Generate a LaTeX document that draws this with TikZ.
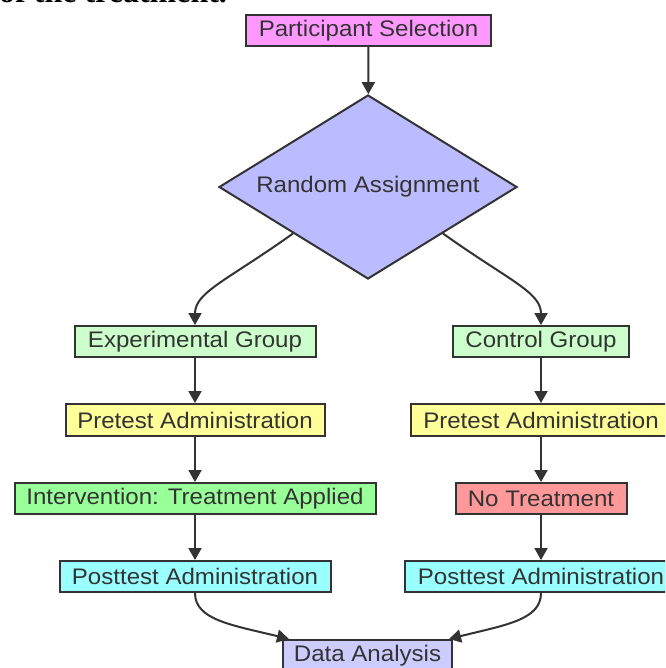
\documentclass[tikz,border=0pt]{standalone}
\usepackage{fontspec}
\setmainfont{Liberation Sans}[FakeStretch=1.07]
\newfontfamily\topserif{Liberation Serif}
\usetikzlibrary{shapes.geometric,arrows.meta,calc}
\definecolor{ink}{HTML}{333333}
\definecolor{cpink}{HTML}{FF99FF}
\definecolor{cdia}{HTML}{BBBBFF}
\definecolor{cgreen}{HTML}{CCFFCC}
\definecolor{cyellow}{HTML}{FFFF99}
\definecolor{cint}{HTML}{99FF99}
\definecolor{cred}{HTML}{FF9999}
\definecolor{ccyan}{HTML}{99FFFF}
\definecolor{cdata}{HTML}{CCCCFF}
\tikzset{
  box/.style={draw=ink, line width=2pt, inner sep=0pt, minimum height=31pt,
    text=ink, font=\fontsize{22.5}{27}\selectfont},
  dia/.style={diamond, draw=ink, line width=2pt, inner sep=0pt, aspect=1.62,
    minimum width=298pt, minimum height=184pt, fill=cdia, text=ink,
    font=\fontsize{22.5}{27}\selectfont},
  conn/.style={draw=ink, line width=2pt, -{Triangle[length=12pt,width=13pt]}}
}
\begin{document}
\begin{tikzpicture}[x=1pt,y=-1pt]
\useasboundingbox (0,0) rectangle (665,668);
\clip (0,0) rectangle (665,668);
\fill[white] (0,0) rectangle (665,668);
\node[anchor=base west, inner sep=0pt, font=\topserif\bfseries\fontsize{32}{36}\selectfont] (toptext) at (-1,3) {of the treatment.};

\node[box, fill=cpink, minimum width=245pt] (ps) at (368.5,30.5) {Participant Selection};
\node[dia] (ra) at (368,187) {Random Assignment};
\node[box, fill=cgreen, minimum width=241pt] (eg) at (195,341.5) {Experimental Group};
\node[box, fill=cgreen, minimum width=176pt] (cg) at (541,341.5) {Control Group};
\node[box, fill=cyellow, minimum width=259pt, minimum height=32pt] (pre1) at (195,420) {Pretest Administration};
\node[box, fill=cyellow, minimum width=260pt, minimum height=32pt] (pre2) at (541,420) {Pretest Administration};
\node[box, fill=cint, minimum width=361pt] (int) at (195,498.5) {Intervention: Treatment Applied};
\node[box, fill=cred, minimum width=171pt] (nt) at (541,498.5) {No Treatment};
\node[box, fill=ccyan, minimum width=271pt] (post1) at (195,576.5) {Posttest Administration};
\node[box, fill=ccyan, minimum width=272pt] (post2) at (541,576.5) {Posttest Administration};
\node[box, fill=cdata, minimum width=169pt] (da) at (367.5,655.5) {Data Analysis};

\coordinate (daL) at ($(da.north west)+(7,0)$);
\coordinate (daR) at ($(da.north east)+(-4,0)$);

\draw[conn] (ps) -- (ra);
\draw[conn] (ra.south west) .. controls (228,280) and (195,292) .. (eg.north);
\draw[conn] (ra.south east) .. controls (508,280) and (541,292) .. (cg.north);
\draw[conn] (eg) -- (pre1);
\draw[conn] (cg) -- (pre2);
\draw[conn] (pre1) -- (int);
\draw[conn] (pre2) -- (nt);
\draw[conn] (int) -- (post1);
\draw[conn] (nt) -- (post2);
\draw[conn] (post1.south) .. controls (195,620) and (232,625) .. (daL);
\draw[conn] (post2.south) .. controls (541,620) and (505,625) .. (daR);
\end{tikzpicture}
\end{document}
